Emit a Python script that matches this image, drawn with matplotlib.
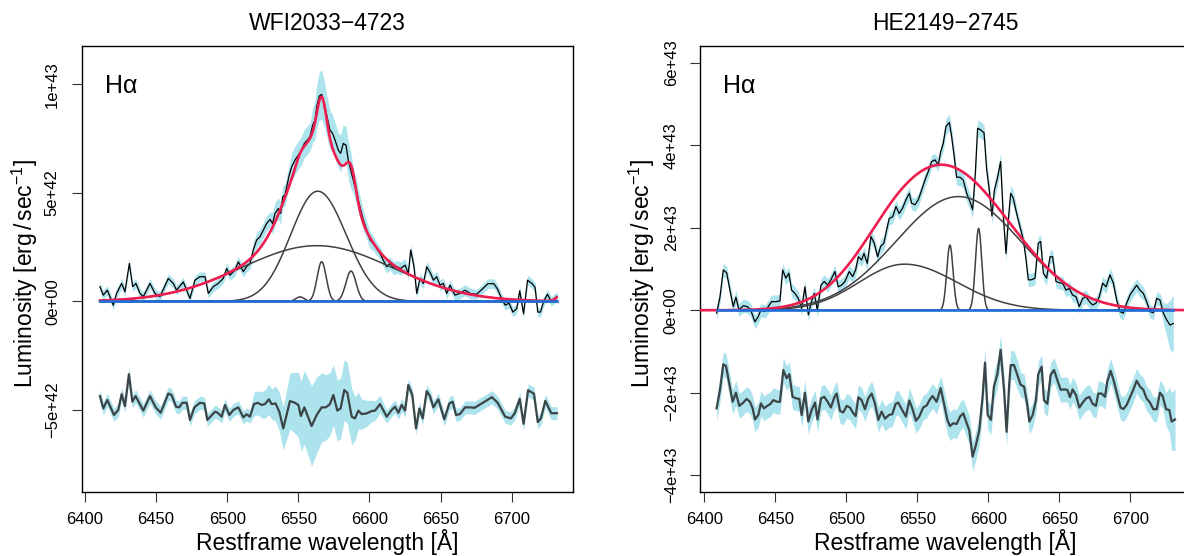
import numpy as np
import matplotlib
matplotlib.use('Agg')
import matplotlib.pyplot as plt

plt.rcParams['font.family'] = 'Liberation Sans'
plt.rcParams['mathtext.fontset'] = 'custom'
plt.rcParams['mathtext.rm'] = 'Liberation Sans'
plt.rcParams['mathtext.it'] = 'Liberation Sans:italic'

# ---------------- WFI2033-4723 (luminosity in units of 1e42 erg/s) ----------------
wfi_lam = [6410.5, 6412.9, 6415.7, 6419.9, 6422.2, 6425.8, 6428.1, 6431.2, 6433.5, 6435.8,
           6438.7, 6441.0, 6445.7, 6449.2, 6452.7, 6458.6, 6462.1, 6464.4, 6469.1, 6473.8,
           6477.3, 6480.8, 6484.4, 6486.7, 6490.2, 6493.7, 6497.2, 6499.6, 6501.9, 6505.4,
           6507.8, 6511.3, 6513.6, 6516.0, 6518.3, 6520.7, 6523.0, 6525.4, 6527.7, 6530.1,
           6531.9, 6533.6, 6535.9, 6537.6, 6539.0, 6540.6, 6541.8, 6543.6, 6545.3, 6547.6,
           6550.0, 6552.3, 6554.2, 6556.3, 6558.2, 6560.1, 6561.7, 6562.9, 6564.7, 6566.4,
           6568.7, 6570.4, 6572.2, 6574.1, 6575.8, 6578.1, 6579.7, 6581.6, 6583.5, 6585.1,
           6586.8, 6588.6, 6591.0, 6593.3, 6595.7, 6598.0, 6600.4, 6602.7, 6605.0, 6607.4,
           6609.7, 6612.1, 6614.4, 6617.2, 6619.1, 6621.9, 6625.0, 6627.3, 6629.0, 6631.3,
           6633.2, 6635.5, 6637.9, 6640.2, 6643.0, 6644.9, 6647.2, 6649.6, 6651.9, 6654.3,
           6656.6, 6660.1, 6663.6, 6667.2, 6670.7, 6675.3, 6679.3, 6683.3, 6687.4, 6690.0,
           6692.7, 6695.4, 6698.1, 6700.8, 6703.5, 6705.6, 6708.3, 6711.1, 6714.3, 6716.4,
           6718.3, 6720.2, 6722.4, 6725.1, 6727.8, 6731.8]
wfi_flux = [0.68, 0.29, 0.52, -0.17, 0.37, 0.83, 0.45, 1.75, 0.68, 0.83,
            0.37, 0.22, 0.83, 0.37, 0.22, 1.06, 0.83, 0.52, 0.90, 0.14,
            0.98, 1.14, 1.14, 0.37, 0.68, 0.83, 1.06, 1.52, 1.21, 1.44,
            1.83, 1.37, 1.60, 1.75, 2.37, 2.83, 2.98, 3.29, 3.59, 3.78,
            3.59, 4.06, 4.28, 4.06, 4.82, 4.90, 5.28, 5.82, 6.20, 6.51,
            6.74, 6.97, 7.28, 7.43, 7.59, 8.13, 8.36, 8.97, 9.46, 9.54,
            8.97, 8.43, 7.90, 7.74, 7.43, 6.97, 6.82, 7.28, 7.20, 6.51,
            6.05, 5.59, 4.98, 4.36, 3.75, 3.29, 2.83, 2.67, 2.44, 2.21,
            1.90, 1.60, 1.75, 1.52, 1.60, 1.52, 1.67, 1.29, 2.37, 1.60,
            0.37, 1.06, 0.83, 1.60, 1.29, 0.98, 1.14, 0.75, 0.83, 0.37,
            0.75, 0.29, 0.37, 0.52, 0.37, 0.33, 0.57, 0.82, 0.82, 0.57,
            0.16, -0.17, -0.08, -0.49, -0.33, 0.49, -0.57, 0.98, 0.82, 0.65,
            -0.49, -0.49, 0.00, 0.33, 0.00, 0.24]
wfi_err = ([0.22] * 27 + [0.25] * 7 + [0.35] * 6 + [0.5] * 8 + [0.65] * 7
           + [0.8, 0.9, 1.0, 1.1, 1.15] + [1.0, 0.95, 0.9, 0.85, 0.8, 0.8] + [0.85] * 5
           + [0.6, 0.55, 0.5, 0.45, 0.4, 0.4, 0.35] + [0.3] * 10 + [0.25] * 17 + [0.22] * 21)

wfi_res_lam = [6410.5, 6412.9, 6415.7, 6420.4, 6423.4, 6425.8, 6428.1, 6430.9, 6433.3, 6435.6,
               6441.0, 6445.7, 6449.7, 6453.2, 6458.6, 6460.9, 6464.0, 6466.3, 6468.4, 6471.5,
               6473.8, 6476.9, 6480.8, 6483.9, 6486.0, 6491.4, 6493.3, 6496.1, 6498.4, 6501.5,
               6504.3, 6507.8, 6511.3, 6513.6, 6516.0, 6518.8, 6521.4, 6524.2, 6526.5, 6529.3,
               6531.2, 6534.0, 6536.6, 6539.4, 6544.1, 6547.6, 6550.0, 6551.8, 6554.2, 6559.3,
               6562.9, 6566.4, 6569.4, 6572.2, 6574.6, 6577.4, 6579.7, 6582.3, 6584.4, 6587.5,
               6589.8, 6592.2, 6594.5, 6598.0, 6601.5, 6603.9, 6607.4, 6612.1, 6615.6, 6617.9,
               6620.3, 6622.6, 6625.0, 6627.3, 6630.1, 6632.7, 6635.1, 6637.4, 6640.2, 6642.5,
               6644.9, 6648.4, 6652.6, 6656.1, 6658.5, 6660.8, 6663.6, 6667.2, 6670.7, 6673.9,
               6677.9, 6681.9, 6686.0, 6690.0, 6695.4, 6699.4, 6702.1, 6705.6, 6708.3, 6711.5,
               6715.6, 6718.3, 6720.5, 6723.6, 6727.8, 6731.8]
wfi_res = [-4.36, -4.93, -4.54, -5.23, -5.00, -4.27, -4.82, -3.35, -4.62, -4.36,
           -5.03, -4.36, -4.88, -5.13, -4.24, -4.31, -4.85, -4.88, -4.67, -4.67,
           -5.46, -4.88, -4.67, -4.70, -5.46, -5.08, -5.13, -5.31, -4.77, -5.23,
           -5.00, -4.88, -5.34, -5.20, -5.31, -4.73, -4.67, -4.77, -4.73, -4.51,
           -4.73, -4.70, -5.08, -5.85, -4.59, -4.67, -4.77, -5.28, -4.88, -5.74,
           -5.23, -4.88, -4.88, -4.73, -4.31, -5.03, -4.93, -4.08, -4.21, -5.31,
           -5.39, -5.03, -5.19, -5.16, -5.05, -5.03, -4.73, -5.31, -5.00, -4.85,
           -5.13, -4.77, -5.03, -3.85, -4.31, -5.85, -4.93, -5.39, -4.13, -4.36,
           -4.88, -4.51, -5.43, -4.70, -4.62, -5.23, -5.19, -4.88, -4.88, -4.90,
           -4.74, -4.58, -4.41, -4.66, -5.31, -5.39, -5.15, -4.49, -5.64, -4.09,
           -4.25, -5.56, -5.39, -4.58, -5.15, -5.15]
wfi_res_err = ([0.3] * 35 + [0.55, 0.55, 0.6, 0.65, 0.7, 0.7] + [0.8, 0.9, 1.0]
               + [1.3, 1.4, 1.5, 1.6, 1.7, 1.85] + [1.75, 1.6, 1.5, 1.45, 1.4, 1.4]
               + [1.4, 1.4, 1.4, 1.3] + [1.0, 0.85, 0.7, 0.6] + [0.5, 0.45, 0.4] + [0.3] * 39)

# fit components: centre, blue-side sigma, red-side sigma, peak
wfi_cen = [6563.0, 6563.6, 6566.4, 6587.0, 6551.2, 6738.0]
wfi_sig_lo = [53.0, 19.0, 3.2, 3.6, 3.0, 4.0]
wfi_sig_hi = [53.0, 20.0, 3.2, 3.6, 3.0, 4.0]
wfi_amp = [2.57, 5.08, 1.83, 1.40, 0.21, 0.60]
wfi_in_fit = [True, True, True, True, True, True]

# ---------------- HE2149-2745 (luminosity in units of 1e43 erg/s) ----------------
he_lam = [6408.7, 6411.1, 6413.4, 6415.8, 6418.1, 6420.4, 6422.3, 6424.4, 6427.5, 6430.3,
          6432.7, 6435.7, 6438.1, 6439.9, 6442.7, 6445.1, 6447.4, 6450.5, 6453.3, 6455.2,
          6457.5, 6459.6, 6461.5, 6463.9, 6466.2, 6468.6, 6470.9, 6473.3, 6475.1, 6477.5,
          6479.6, 6482.2, 6484.5, 6486.9, 6489.2, 6492.0, 6494.4, 6496.7, 6499.1, 6502.1,
          6504.5, 6506.6, 6508.5, 6510.8, 6512.5, 6514.8, 6517.4, 6519.7, 6522.1, 6524.2,
          6526.5, 6528.4, 6530.3, 6532.7, 6535.0, 6537.3, 6539.7, 6542.0, 6544.4, 6546.0,
          6548.4, 6550.7, 6553.1, 6555.4, 6557.8, 6560.1, 6562.5, 6564.8, 6566.5, 6568.3,
          6570.2, 6572.6, 6574.2, 6575.9, 6577.7, 6580.1, 6582.4, 6584.8, 6587.1, 6589.0,
          6590.9, 6592.5, 6594.6, 6597.0, 6598.9, 6600.7, 6602.6, 6604.3, 6606.4, 6608.7,
          6610.6, 6612.5, 6614.1, 6615.8, 6617.6, 6620.0, 6622.3, 6624.7, 6626.5, 6628.2,
          6630.5, 6632.9, 6635.2, 6636.9, 6638.8, 6641.1, 6643.5, 6645.3, 6647.7, 6650.0,
          6652.4, 6654.7, 6657.1, 6659.4, 6661.8, 6664.1, 6666.5, 6668.8, 6671.2, 6673.5,
          6675.8, 6678.2, 6680.5, 6682.9, 6685.7, 6688.1, 6690.4, 6692.7, 6695.1, 6697.4,
          6699.8, 6702.1, 6704.5, 6706.8, 6709.2, 6711.5, 6713.9, 6716.2, 6718.6, 6720.9,
          6723.3, 6725.6, 6728.0, 6730.3]
he_flux = [-0.07, 0.33, 0.98, 0.91, 0.49, 0.09, 0.32, 0.01, 0.11, 0.09,
           0.01, -0.28, -0.15, 0.01, -0.03, 0.09, 0.21, 0.21, 0.23, 0.98,
           0.78, 0.90, 0.49, 0.41, 0.29, 0.05, 0.57, -0.11, 0.17, 0.41,
           0.01, 0.61, 0.70, 0.61, 0.74, 0.94, 0.57, 0.61, 0.70, 0.94,
           0.82, 0.98, 1.30, 1.22, 1.38, 1.14, 1.79, 1.63, 1.30, 1.55,
           1.63, 1.95, 2.23, 2.27, 2.52, 2.35, 2.48, 2.68, 2.84, 2.60,
           2.56, 2.68, 2.92, 3.16, 3.37, 3.61, 3.65, 3.53, 3.85, 4.05,
           4.46, 4.56, 4.22, 3.77, 3.23, 3.23, 3.16, 2.84, 2.64, 2.44,
           3.33, 4.42, 4.38, 4.31, 3.41, 2.92, 2.29, 2.92, 3.20, 3.61,
           2.27, 1.38, 2.19, 2.84, 2.72, 2.35, 2.03, 1.71, 1.26, 0.74,
           0.74, 0.78, 1.63, 1.67, 0.90, 0.78, 1.30, 1.30, 0.70, 0.67,
           0.66, 0.49, 0.53, 0.37, 0.33, 0.09, 0.29, 0.33, 0.21, 0.13,
           0.17, 0.33, 0.66, 0.57, 0.86, 0.66, 0.25, -0.03, -0.07, 0.17,
           0.37, 0.49, 0.61, 0.49, 0.41, 0.21, -0.03, -0.06, 0.29, 0.25,
           -0.07, -0.23, -0.36, -0.32]
he_err = [0.16] * 69 + [0.2] * 26 + [0.16] * 45 + [0.25, 0.4, 0.6, 0.7]

he_res_lam = [6408.7, 6411.1, 6413.4, 6415.3, 6417.6, 6420.0, 6422.3, 6424.7, 6427.5, 6429.8,
              6432.2, 6434.1, 6435.7, 6438.1, 6439.9, 6442.0, 6444.4, 6446.7, 6448.6, 6451.4,
              6453.3, 6455.7, 6458.0, 6459.9, 6462.2, 6465.0, 6466.9, 6468.6, 6470.9, 6473.3,
              6475.6, 6478.0, 6479.8, 6482.2, 6484.5, 6486.9, 6489.2, 6491.6, 6493.2, 6495.6,
              6497.9, 6500.3, 6502.6, 6505.0, 6506.6, 6508.5, 6510.8, 6513.2, 6515.5, 6517.9,
              6520.2, 6522.6, 6524.9, 6527.3, 6530.1, 6532.4, 6534.8, 6536.6, 6539.7, 6542.0,
              6544.4, 6546.7, 6549.1, 6551.4, 6554.2, 6556.6, 6559.0, 6560.8, 6563.6, 6566.5,
              6568.8, 6571.2, 6573.0, 6575.4, 6577.7, 6580.1, 6582.4, 6584.8, 6586.6, 6589.0,
              6591.3, 6593.7, 6596.0, 6597.7, 6599.6, 6601.9, 6604.0, 6606.4, 6608.7, 6611.1,
              6612.9, 6614.8, 6615.8, 6618.1, 6620.5, 6622.8, 6625.2, 6627.5, 6628.9, 6631.3,
              6633.6, 6635.2, 6637.6, 6639.2, 6641.6, 6643.9, 6646.3, 6648.6, 6651.0, 6653.3,
              6655.7, 6657.5, 6659.4, 6661.8, 6664.1, 6666.5, 6668.8, 6671.2, 6673.5, 6675.8,
              6677.5, 6679.8, 6682.2, 6683.8, 6686.2, 6688.5, 6690.9, 6693.2, 6695.1, 6697.4,
              6699.8, 6702.1, 6704.5, 6706.8, 6709.2, 6711.5, 6713.9, 6716.2, 6718.6, 6720.9,
              6722.8, 6725.2, 6727.5, 6729.1, 6731.5]
he_res = [-2.38, -1.93, -1.31, -1.35, -1.77, -2.22, -2.00, -2.32, -2.24, -2.15,
          -2.22, -2.38, -2.65, -2.54, -2.26, -2.38, -2.32, -2.27, -2.18, -2.22,
          -2.22, -1.45, -1.65, -1.55, -2.10, -2.14, -2.15, -2.54, -2.00, -2.70,
          -2.42, -2.24, -2.65, -2.14, -2.10, -2.22, -2.36, -2.11, -2.02, -2.44,
          -2.48, -2.32, -2.36, -2.50, -2.57, -2.11, -2.18, -2.40, -2.14, -2.02,
          -2.26, -2.66, -2.46, -2.63, -2.54, -2.52, -2.27, -2.24, -2.44, -2.58,
          -2.19, -2.40, -2.68, -2.58, -2.36, -2.31, -2.16, -2.08, -2.22, -1.89,
          -2.26, -2.66, -2.81, -2.74, -2.76, -2.58, -2.50, -2.74, -2.91, -3.55,
          -3.27, -2.91, -2.10, -1.27, -2.54, -2.66, -1.85, -1.55, -0.96, -1.93,
          -2.95, -1.77, -1.33, -1.33, -1.57, -1.81, -1.85, -2.30, -2.70, -2.54,
          -2.18, -1.55, -1.37, -2.18, -2.27, -1.57, -1.45, -1.69, -1.93, -1.92,
          -1.93, -2.11, -1.92, -2.06, -2.36, -2.24, -2.14, -2.10, -2.27, -2.32,
          -2.02, -2.02, -2.10, -1.73, -1.47, -1.73, -2.06, -2.36, -2.40, -2.30,
          -2.11, -1.93, -1.71, -1.85, -1.93, -2.14, -2.24, -2.40, -2.40, -2.00,
          -2.08, -2.40, -2.42, -2.70, -2.65]
he_res_err = [0.3] * 70 + [0.35] * 25 + [0.3] * 46 + [0.4, 0.55, 0.7, 0.75]

he_cen = [6541.0, 6579.0, 6573.0, 6593.2]
he_sig_lo = [32.0, 44.0, 2.2, 2.2]
he_sig_hi = [37.0, 44.0, 2.2, 2.2]
he_amp = [1.12, 2.76, 1.59, 1.99]
he_in_fit = [True, True, False, False]

BAND = '#ace3ec'
FIT = '#ee1e50'
BASE = '#1f6fdb'
COMP = '#404040'
RESID = '#3b4446'


def profile(x, cen, s_lo, s_hi, amp):
    s = np.where(x < cen, s_lo, s_hi)
    return amp * np.exp(-0.5 * ((x - cen) / s) ** 2)


def panel(rect, title, unit, lam, flux, err, rlam, res, rerr,
          cen, s_lo, s_hi, amp, in_fit, xlim, fit_lim, ylim, yticks, ylabels,
          ylab_x, ytick_pad):
    ax = fig.add_axes(rect)
    lam = np.array(lam)
    flux = np.array(flux) * unit
    err = np.array(err) * unit
    rlam = np.array(rlam)
    res = np.array(res) * unit
    rerr = np.array(rerr) * unit

    ax.fill_between(lam, flux - err, flux + err, color=BAND, lw=0, zorder=1)
    ax.fill_between(rlam, res - rerr, res + rerr, color=BAND, lw=0, zorder=1)
    ax.plot(lam, flux, color='black', lw=0.9, zorder=2)
    ax.plot(rlam, res, color=RESID, lw=1.6, zorder=2)

    grid = np.arange(lam[0], lam[-1] + 0.01, 0.5)
    for c, a, b, h in zip(cen, s_lo, s_hi, amp):
        ax.plot(grid, profile(grid, c, a, b, h) * unit, color=COMP, lw=1.1, zorder=3)

    fgrid = np.arange(fit_lim[0], fit_lim[1] + 0.01, 0.5)
    fit = np.zeros_like(fgrid)
    for c, a, b, h, use in zip(cen, s_lo, s_hi, amp, in_fit):
        if use:
            fit += profile(fgrid, c, a, b, h)
    ax.plot(fgrid, fit * unit, color=FIT, lw=1.9, zorder=4)
    ax.plot([lam[0], lam[-1]], [0, 0], color=BASE, lw=1.9, zorder=5)

    ax.set_xlim(xlim)
    ax.set_ylim(ylim[0] * unit, ylim[1] * unit)
    ax.set_xticks([6400, 6450, 6500, 6550, 6600, 6650, 6700])
    ax.set_yticks([t * unit for t in yticks])
    ax.set_yticklabels(ylabels)
    ax.tick_params(direction='out', length=7.2, width=0.8, labelsize=12, color='#333333')
    ax.tick_params(axis='x', pad=7.0)
    ax.tick_params(axis='y', pad=ytick_pad, labelrotation=90)
    for lab in ax.get_yticklabels():
        lab.set_va('center')
    for sp in ax.spines.values():
        sp.set_linewidth(1.0)

    ax.set_title(title, fontsize=16.5, pad=11.4)
    ax.set_xlabel('Restframe wavelength [Å]', fontsize=16.5, va='baseline')
    ax.xaxis.set_label_coords(0.5, -0.131)
    ax.set_ylabel(r'Luminosity [erg$\,/\,$sec$^{-1}$]', fontsize=16.5, va='center')
    ax.yaxis.set_label_coords(ylab_x, 0.49)
    ax.text(0.047, 0.894, 'Hα', transform=ax.transAxes, fontsize=18,
            ha='left', va='baseline')
    return ax


fig = plt.figure(figsize=(11.84, 5.56), dpi=100)

panel([0.069, 0.1151, 0.415, 0.8022], 'WFI2033\u22124723', 1e42,
      wfi_lam, wfi_flux, wfi_err, wfi_res_lam, wfi_res, wfi_res_err,
      wfi_cen, wfi_sig_lo, wfi_sig_hi, wfi_amp, wfi_in_fit,
      (6397.7, 6743.1), (6410.5, 6731.8), (-8.78, 11.77),
      [-5, 0, 5, 10], ['\u22125e+42', '0e+00', '5e+42', '1e+43'], -0.116, 8.5)

panel([0.5912, 0.1151, 0.415, 0.8022], 'HE2149\u22122745', 1e43,
      he_lam, he_flux, he_err, he_res_lam, he_res, he_res_err,
      he_cen, he_sig_lo, he_sig_hi, he_amp, he_in_fit,
      (6397.0, 6743.0), (6380.0, 6760.0), (-4.41, 6.415),
      [-4, -2, 0, 2, 4, 6], ['\u22124e+43', '\u22122e+43', '0e+00', '2e+43', '4e+43', '6e+43'],
      -0.119, 8.0)

fig.savefig('out.png', dpi=100)
